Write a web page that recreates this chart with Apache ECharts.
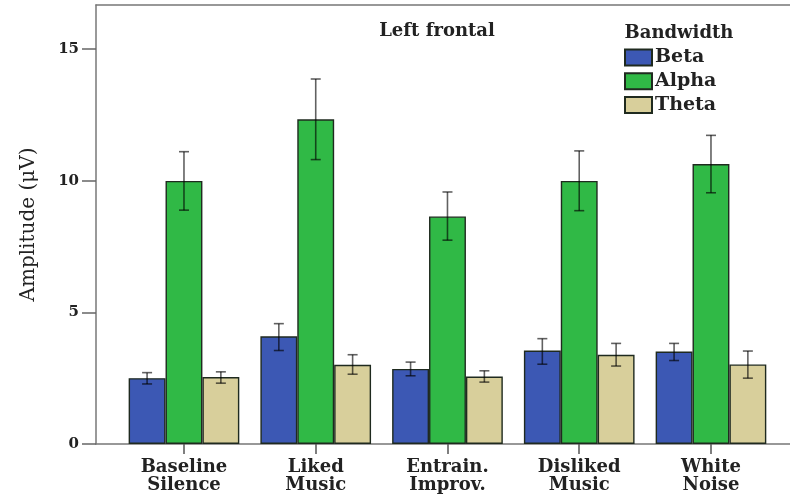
<!DOCTYPE html>
<html>
<head>
<meta charset="utf-8">
<script src="https://cdn.jsdelivr.net/npm/echarts@6/dist/echarts.min.js"></script>
<style>
  html, body { margin: 0; padding: 0; background: #fff; }
  #chart { width: 790px; height: 497px; }
</style>
</head>
<body>
<div id="chart"></div>
<script>
const categories = ['Baseline\nSilence', 'Liked\nMusic', 'Entrain.\nImprov.', 'Disliked\nMusic', 'White\nNoise'];
const seriesNames = ['Beta', 'Alpha', 'Theta'];
const beta      = [2.50, 4.09, 2.85, 3.55, 3.51];
const betaLow   = [2.28, 3.55, 2.59, 3.03, 3.17];
const betaHigh  = [2.71, 4.57, 3.11, 4.00, 3.82];
const alpha     = [9.99, 12.33, 8.64, 9.99, 10.63];
const alphaLow  = [8.88, 10.80, 7.74, 8.86, 9.54];
const alphaHigh = [11.10, 13.86, 9.57, 11.13, 11.72];
const theta     = [2.54, 3.01, 2.56, 3.39, 3.02];
const thetaLow  = [2.31, 2.65, 2.35, 2.96, 2.50];
const thetaHigh = [2.74, 3.39, 2.78, 3.82, 3.53];
const yTicks = [0, 5, 10, 15];

const colors = ['#3c58b4', '#30b946', '#d8cf9b'];
const values = [beta, alpha, theta];
const lows = [betaLow, alphaLow, thetaLow];
const highs = [betaHigh, alphaHigh, thetaHigh];

const Y_MAX = 16.67;
const GAP = 0.16;
const serif = 'DejaVu Serif';
const frameLine = { color: '#777', width: 1.5 };

const chart = echarts.init(document.getElementById('chart'), null, { renderer: 'canvas' });

function errRenderer(offsetIndex) {
  return function (params, api) {
    const cat = api.value(0);
    const lo = api.coord([cat, api.value(1)]);
    const hi = api.coord([cat, api.value(2)]);
    const band = api.size([1, 0])[0];
    const bw = band * (1 - GAP) / 3;
    const x = lo[0] + offsetIndex * bw;
    const cap = 5;
    const style = { stroke: 'rgba(0,0,0,0.62)', lineWidth: 1.6 };
    return {
      type: 'group',
      children: [
        { type: 'line', shape: { x1: x, y1: lo[1], x2: x, y2: hi[1] }, style: style },
        { type: 'line', shape: { x1: x - cap, y1: hi[1], x2: x + cap, y2: hi[1] }, style: style },
        { type: 'line', shape: { x1: x - cap, y1: lo[1], x2: x + cap, y2: lo[1] }, style: style }
      ]
    };
  };
}

const series = [];
seriesNames.forEach((name, i) => {
  series.push({
    name: name,
    type: 'bar',
    xAxisIndex: 2,
    yAxisIndex: 1,
    data: values[i],
    barGap: '0%',
    barCategoryGap: (GAP * 100) + '%',
    itemStyle: { color: colors[i], borderColor: '#1f2a1f', borderWidth: 1.4 },
    emphasis: { disabled: true },
    z: 2
  });
});
seriesNames.forEach((name, i) => {
  series.push({
    name: name + ' error',
    type: 'custom',
    xAxisIndex: 2,
    yAxisIndex: 1,
    renderItem: errRenderer(i - 1),
    data: categories.map((c, k) => [k, lows[i][k], highs[i][k]]),
    z: 5,
    silent: true
  });
});

const option = {
  backgroundColor: '#ffffff',
  animation: false,
  title: [
    {
      text: 'Left frontal',
      left: 432, top: 17, textAlign: 'center',
      textStyle: { fontFamily: serif, fontWeight: 'bold', fontSize: 18, color: '#222' }
    },
    {
      text: 'Bandwidth',
      left: 674, top: 19, textAlign: 'center',
      textStyle: { fontFamily: serif, fontWeight: 'bold', fontSize: 18, color: '#222' }
    }
  ],
  legend: {
    data: seriesNames,
    orient: 'vertical',
    left: 624,
    top: 48,
    itemWidth: 27,
    itemHeight: 16,
    itemGap: 4.7,
    icon: 'rect',
    padding: 0,
    textStyle: { fontFamily: serif, fontWeight: 'bold', fontSize: 19, color: '#222', lineHeight: 16, padding: [0, 0, 0, -2] }
  },
  grid: [
    { left: 96, right: 0, top: 5, bottom: 53 },
    { left: 118.1, width: 658.75, top: 5, bottom: 53 }
  ],
  xAxis: [
    {
      type: 'value', gridIndex: 0, min: 0, max: 1, position: 'bottom',
      axisLine: { show: true, onZero: false, lineStyle: frameLine },
      axisTick: { show: false }, axisLabel: { show: false }, splitLine: { show: false }
    },
    {
      type: 'value', gridIndex: 0, min: 0, max: 1, position: 'top',
      axisLine: { show: true, onZero: false, lineStyle: frameLine },
      axisTick: { show: false }, axisLabel: { show: false }, splitLine: { show: false }
    },
    {
      type: 'category', gridIndex: 1, data: categories,
      axisLine: { show: false },
      axisTick: { show: true, alignWithLabel: true, length: 10, lineStyle: { color: '#555', width: 1.5 } },
      axisLabel: { margin: 14, fontFamily: serif, fontWeight: 'bold', fontSize: 18, lineHeight: 18, color: '#222' }
    }
  ],
  yAxis: [
    {
      type: 'value', gridIndex: 0, min: 0, max: Y_MAX, interval: 5,
      name: 'Amplitude (μV)',
      nameLocation: 'middle',
      nameGap: 57,
      nameTextStyle: { fontFamily: serif, fontSize: 20, color: '#222' },
      axisLine: { show: true, onZero: false, lineStyle: frameLine },
      axisTick: { show: true, length: 14, lineStyle: { color: '#666', width: 1.5 } },
      axisLabel: {
        margin: 17, fontFamily: serif, fontWeight: 'bold', fontSize: 15, color: '#222',
        showMaxLabel: false,
        formatter: v => (yTicks.indexOf(v) >= 0 ? String(v) : '')
      },
      splitLine: { show: false }
    },
    { type: 'value', gridIndex: 1, min: 0, max: Y_MAX, show: false }
  ],
  series: series
};

chart.setOption(option);
</script>
</body>
</html>
